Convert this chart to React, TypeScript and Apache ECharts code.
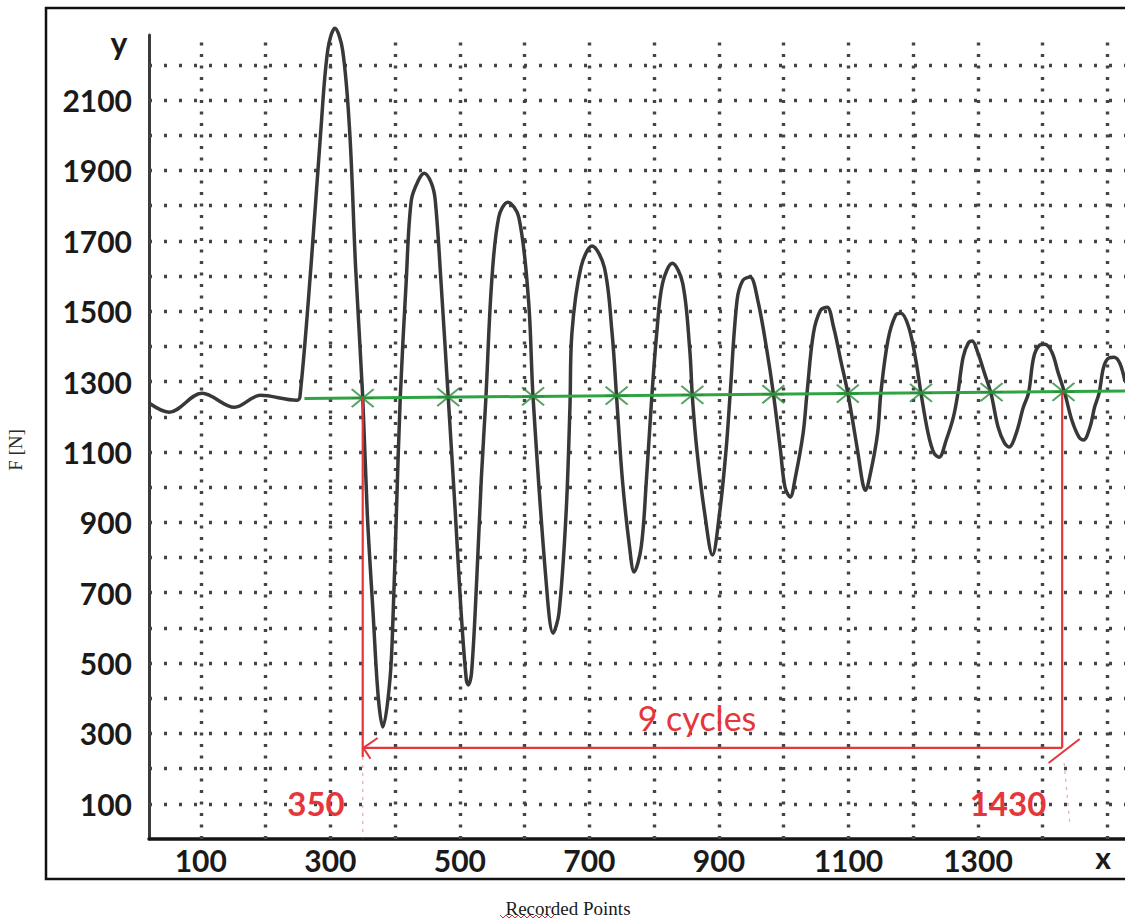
import React, { useEffect, useRef } from "react";
import * as echarts from "echarts";

// ---- data ----
const xGridValues = [100, 200, 300, 400, 500, 600, 700, 800, 900, 1000, 1100, 1200, 1300, 1400, 1500];
const yGridValues = [100, 200, 300, 400, 500, 600, 700, 800, 900, 1000, 1100, 1200, 1300, 1400, 1500, 1600, 1700, 1800, 1900, 2000, 2100, 2200];
const xTickLabels = [100, 300, 500, 700, 900, 1100, 1300];
const yTickLabels = [100, 300, 500, 700, 900, 1100, 1300, 1500, 1700, 1900, 2100];

// recorded force signal [recorded point, F]
const forceCurve: number[][] = [
  [20, 1239], [51, 1213], [102, 1267], [152, 1227], [192, 1261], [248, 1247],
  [253, 1256], [270, 1625], [285, 2006], [296, 2242], [307, 2304], [319, 2242], [330, 2006], [339, 1625], [350, 1256],
  [357, 926], [366, 642], [374, 403], [381, 318], [392, 452], [397, 642], [402, 926], [408, 1256],
  [417, 1580], [425, 1815], [436, 1872], [445, 1892], [456, 1864], [462, 1815], [471, 1580], [482, 1256],
  [493, 926], [502, 642], [510, 452], [513, 438], [518, 472], [526, 736], [533, 1020], [540, 1247],
  [549, 1580], [560, 1767], [574, 1810], [591, 1767], [606, 1531], [613, 1256],
  [633, 736], [644, 585], [653, 642], [664, 926], [670, 1230],
  [673, 1438], [687, 1625], [704, 1685], [723, 1625], [735, 1438], [742, 1256],
  [751, 1020], [762, 830], [769, 759], [780, 830], [788, 1020], [796, 1247],
  [804, 1438], [813, 1580], [828, 1636], [844, 1580], [855, 1389], [859, 1256],
  [866, 1105], [878, 926], [890, 807], [901, 926], [911, 1105], [917, 1256],
  [928, 1531], [937, 1588], [948, 1597], [960, 1531], [974, 1389], [984, 1267],
  [995, 1105], [1002, 1000], [1010, 972], [1018, 1028], [1030, 1153], [1036, 1267],
  [1046, 1438], [1057, 1503], [1067, 1511], [1077, 1455], [1088, 1361], [1099, 1267],
  [1114, 1105], [1122, 1011], [1126, 991], [1134, 1040], [1145, 1153], [1150, 1267],
  [1161, 1418], [1173, 1489], [1181, 1494], [1193, 1455], [1204, 1361], [1212, 1267],
  [1223, 1153], [1232, 1097], [1240, 1085], [1251, 1134], [1262, 1199], [1269, 1267],
  [1277, 1369], [1285, 1409], [1291, 1415], [1300, 1381], [1310, 1324], [1320, 1267],
  [1331, 1171], [1341, 1125], [1348, 1114], [1359, 1153], [1370, 1227], [1378, 1267],
  [1386, 1369], [1395, 1403], [1403, 1406], [1414, 1384], [1424, 1324], [1434, 1267],
  [1445, 1190], [1456, 1142], [1463, 1134], [1473, 1171], [1480, 1227], [1487, 1267],
  [1494, 1341], [1502, 1367], [1510, 1369], [1519, 1352], [1527, 1300],
];

// green mean line and crossing marks
const meanLine = [[260, 1252], [1527, 1273]];
const crossingMarks = [
  [350, 1253], [482, 1256], [613, 1258], [742, 1260], [859, 1262],
  [984, 1264], [1099, 1266], [1212, 1268], [1321, 1270], [1432, 1271],
];

// red "9 cycles" bracket
const cycleStart = 350;
const cycleEnd = 1430;
const bracketLevel = 259;
const leftBracket = [[cycleStart, 1256], [cycleStart, 233]];
const bottomBracket = [[cycleStart, bracketLevel], [cycleEnd, bracketLevel]];
const rightBracket = [[cycleEnd, bracketLevel], [cycleEnd, 1271]];
const leftArrowHead = [[373, 287], [351, 259], [362, 228]];
const rightArrowHead = [[1409, 216], [1457, 284]];
const leftGuide = [[cycleStart, 233], [cycleStart, 0]];
const rightGuide = [[cycleEnd + 3, 216], [cycleEnd + 12, 40]];

const RED = "#e5363c";
const GREEN = "#2ea443";

function lineSeries(data: number[][], color: string, width: number, z: number, extra: any = {}) {
  return {
    type: "line",
    data,
    showSymbol: false,
    symbol: "none",
    clip: false,
    silent: true,
    z,
    lineStyle: { color, width, ...(extra.lineStyle || {}) },
  };
}

export default function App() {
  const ref = useRef<HTMLDivElement>(null);

  useEffect(() => {
    if (!ref.current) return;
    const chart = echarts.init(ref.current, null, { renderer: "svg" });

    const squiggle: number[][] = [];
    for (let i = 0; i <= 18; i++) squiggle.push([500 + i * 3, i % 2 === 0 ? 915 : 918]);

    const plain = (v: number) => String(v);

    const option: any = {
      animation: false,
      backgroundColor: "#ffffff",
      textStyle: { fontFamily: "Lato" },
      grid: { left: 149, top: 35, right: 0, bottom: 81, containLabel: false },
      xAxis: {
        type: "value",
        min: 20,
        max: 1527,
        splitLine: { show: false },
        axisTick: { show: false },
        axisLine: { show: true, lineStyle: { color: "#151515", width: 3.5 } },
        axisLabel: {
          customValues: xTickLabels,
          formatter: plain,
          color: "#1a1a1a",
          fontFamily: "Lato",
          fontWeight: "bold",
          fontSize: 30,
          margin: 6,
        },
      },
      yAxis: {
        type: "value",
        min: 0,
        max: 2285,
        splitLine: { show: false },
        axisTick: { show: false },
        axisLine: { show: true, lineStyle: { color: "#3a3a3a", width: 3 } },
        axisLabel: {
          customValues: yTickLabels,
          formatter: plain,
          color: "#1a1a1a",
          fontFamily: "Lato",
          fontWeight: "bold",
          fontSize: 30,
          margin: 17,
        },
      },
      series: [
        {
          type: "line",
          data: [[20, 0]],
          showSymbol: false,
          symbol: "none",
          lineStyle: { opacity: 0 },
          silent: true,
          z: 1,
          markLine: {
            z: 1,
            silent: true,
            animation: false,
            symbol: ["none", "none"],
            label: { show: false },
            emphasis: { disabled: true },
            data: [
              ...xGridValues.map((v) => ({ xAxis: v, lineStyle: { color: "#444", width: 3.4, type: [3, 8.5] } })),
              ...yGridValues.map((v) => ({ yAxis: v, lineStyle: { color: "#444", width: 3.4, type: [3, 12] } })),
            ],
          },
        },
        lineSeries(leftGuide, "rgba(229,54,60,0.45)", 1.2, 2, { lineStyle: { type: [3, 5] } }),
        lineSeries(rightGuide, "rgba(229,54,60,0.45)", 1.2, 2, { lineStyle: { type: [3, 5] } }),
        {
          type: "line",
          name: "F",
          data: forceCurve,
          smooth: 0.35,
          showSymbol: false,
          symbol: "none",
          clip: false,
          silent: true,
          z: 3,
          lineStyle: { color: "#383838", width: 3.5 },
        },
        lineSeries(meanLine, GREEN, 3, 4),
        {
          type: "scatter",
          data: crossingMarks,
          symbol: "path://M0,0L20,20M20,0L0,20M0,10L20,10",
          symbolSize: [22, 18],
          silent: true,
          z: 5,
          itemStyle: { color: "transparent", borderColor: "#2c8a3b", borderWidth: 2 },
        },
        lineSeries(leftBracket, RED, 2.2, 6),
        lineSeries(bottomBracket, RED, 2.2, 6),
        lineSeries(rightBracket, RED, 2.2, 6),
        lineSeries(leftArrowHead, RED, 2, 6),
        lineSeries(rightArrowHead, RED, 2, 6),
      ],
      graphic: [
        {
          type: "rect",
          shape: { x: 46, y: 8, width: 1100, height: 871 },
          style: { fill: "none", stroke: "#111111", lineWidth: 2.5 },
          silent: true,
          z: 10,
        },
        {
          type: "text",
          x: 119,
          y: 42,
          style: { text: "y", fill: "#1a1a1a", font: "bold 32px Lato", textAlign: "center", textVerticalAlign: "middle" },
          z: 10,
        },
        {
          type: "text",
          x: 1103,
          y: 857,
          style: { text: "x", fill: "#1a1a1a", font: "bold 30px Lato", textAlign: "center", textVerticalAlign: "middle" },
          z: 10,
        },
        {
          type: "text",
          x: 15,
          y: 450,
          rotation: Math.PI / 2,
          style: { text: "F [N]", fill: "#2a2a2a", font: "19px 'Liberation Serif'", textAlign: "center", textVerticalAlign: "middle" },
          z: 10,
        },
        {
          type: "text",
          x: 568,
          y: 908,
          style: { text: "Recorded Points", fill: "#1a1a1a", font: "19px 'Liberation Serif'", textAlign: "center", textVerticalAlign: "middle" },
          z: 10,
        },
        {
          type: "polyline",
          shape: { points: squiggle },
          style: { stroke: "#e0262c", lineWidth: 1, fill: "none" },
          silent: true,
          z: 10,
        },
        {
          type: "text",
          x: 697,
          y: 717,
          style: { text: "9 cycles", fill: RED, font: "34px Lato", textAlign: "center", textVerticalAlign: "middle" },
          z: 10,
        },
        {
          type: "text",
          x: 316,
          y: 803,
          style: { text: String(cycleStart), fill: RED, font: "bold 33px Lato", textAlign: "center", textVerticalAlign: "middle" },
          z: 10,
        },
        {
          type: "text",
          x: 1008,
          y: 803,
          style: { text: String(cycleEnd), fill: RED, font: "bold 33px Lato", textAlign: "center", textVerticalAlign: "middle" },
          z: 10,
        },
      ],
    };

    chart.setOption(option);
    return () => chart.dispose();
  }, []);

  return (
    <div
      ref={ref}
      style={{ position: "fixed", left: 0, top: 0, width: 1125, height: 920, background: "#fff" }}
    />
  );
}
